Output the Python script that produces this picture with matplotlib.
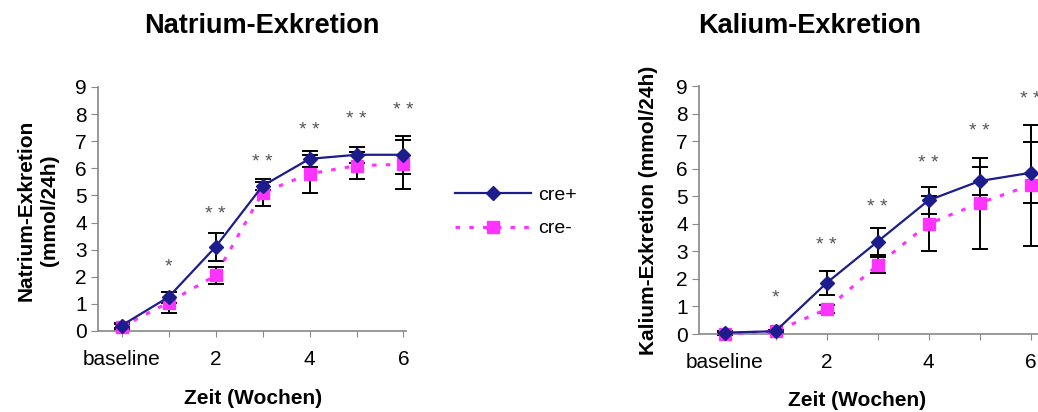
import matplotlib
matplotlib.use("Agg")
import matplotlib.pyplot as plt
from matplotlib.lines import Line2D

plt.rcParams['font.family'] = ['Liberation Sans', 'DejaVu Sans']

weeks = ["baseline", "1", "2", "3", "4", "5", "6"]
shown_labels = ["baseline", "", "2", "", "4", "", "6"]

na_pos = [0.2, 1.25, 3.1, 5.35, 6.35, 6.5, 6.5]
na_pos_err = [0.1, 0.2, 0.5, 0.15, 0.3, 0.3, 0.7]
na_neg = [0.15, 1.05, 2.05, 5.1, 5.8, 6.1, 6.15]
na_neg_err = [0.1, 0.4, 0.3, 0.5, 0.7, 0.5, 0.9]
na_sig = ["", "*", "* *", "* *", "* *", "* *", "* *"]
na_sig_y = [0, 2.35, 4.3, 6.2, 7.4, 7.8, 8.15]

k_pos = [0.05, 0.1, 1.85, 3.35, 4.85, 5.55, 5.85]
k_pos_err = [0.05, 0.05, 0.45, 0.5, 0.5, 0.5, 1.1]
k_neg = [0.0, 0.1, 0.9, 2.5, 4.0, 4.75, 5.4]
k_neg_err = [0.05, 0.05, 0.15, 0.3, 1.0, 1.65, 2.2]
k_sig = ["", "*", "* *", "* *", "* *", "* *", "* *"]
k_sig_y = [0, 1.3, 3.2, 4.6, 6.2, 7.35, 8.5]

BLUE = "#1c1c8c"
MAG = "#ff33ff"
GRAY = "#888888"
SIGC = "#555555"

W, H = 1038, 412
fig = plt.figure(figsize=(W / 100, H / 100), dpi=100)


def panel(rect, xmax, pos, pos_err, neg, neg_err, sig, sig_y, title, ylabel, title_xy, ylab_x, xlab_xy):
    ax = fig.add_axes(rect)
    x = list(range(len(weeks)))
    ax.errorbar(x, neg, yerr=neg_err, fmt='none', ecolor='black', elinewidth=1.4,
                capsize=6, capthick=1.4, zorder=2, clip_on=False)
    ax.errorbar(x, pos, yerr=pos_err, fmt='none', ecolor='black', elinewidth=1.4,
                capsize=6, capthick=1.4, zorder=2, clip_on=False)
    ax.plot(x, neg, color=MAG, linestyle=(0, (1.5, 3)), linewidth=2.2,
            marker='s', markersize=8.5, markerfacecolor=MAG, markeredgecolor=MAG,
            zorder=3, clip_on=False)
    ax.plot(x, pos, color=BLUE, linestyle='-', linewidth=1.6,
            marker='D', markersize=7.5, markerfacecolor=BLUE, markeredgecolor=BLUE,
            zorder=4, clip_on=False)
    for xi, s, yv in zip(x, sig, sig_y):
        if s:
            ax.text(xi, yv, s, ha='center', va='center', fontsize=14, color=SIGC)
    ax.set_xlim(-0.5, xmax)
    ax.set_ylim(0, 9)
    ax.set_yticks(range(10))
    ax.set_xticks(x)
    ax.set_xticklabels(shown_labels)
    for sp in ['top', 'right']:
        ax.spines[sp].set_visible(False)
    for sp in ['left', 'bottom']:
        ax.spines[sp].set_color(GRAY)
        ax.spines[sp].set_linewidth(1.2)
    ax.tick_params(axis='y', labelsize=15, length=5, color=GRAY, pad=3)
    ax.tick_params(axis='x', labelsize=15, length=4, color=GRAY, pad=10)
    fig.text(title_xy[0] / W, 1 - title_xy[1] / H, title, ha='center', va='center',
             fontsize=19.5, fontweight='bold')
    fig.text(ylab_x / W, 1 - 210 / H, ylabel, ha='center', va='center', rotation=90,
             fontsize=15, fontweight='bold', linespacing=1.25)
    fig.text(xlab_xy[0] / W, 1 - xlab_xy[1] / H, "Zeit (Wochen)", ha='center', va='center',
             fontsize=15, fontweight='bold')
    return ax


# left panel: axis 98..407 px, y0 at 331, y9 at 87
left_rect = [98 / W, 1 - 331 / H, 6.55 * 47 / W, (331 - 87) / H]
panel(left_rect, 6.05, na_pos, na_pos_err, na_neg, na_neg_err, na_sig, na_sig_y,
      "Natrium-Exkretion", "Natrium-Exkretion\n(mmol/24h)", (262, 26), 38, (253, 398))

# right panel: axis starts at 699 px, y0 at 334, y9 at 86
right_rect = [699 / W, 1 - 334 / H, 7.0 * 51 / W, (334 - 86) / H]
panel(right_rect, 6.5, k_pos, k_pos_err, k_neg, k_neg_err, k_sig, k_sig_y,
      "Kalium-Exkretion", "Kalium-Exkretion (mmol/24h)", (810, 26), 648, (857, 401))

handles = [
    Line2D([], [], color=BLUE, linestyle='-', linewidth=1.6, marker='D', markersize=7.5,
           markerfacecolor=BLUE, markeredgecolor=BLUE),
    Line2D([], [], color=MAG, linestyle=(0, (1.5, 3)), linewidth=2.2, marker='s', markersize=8.5,
           markerfacecolor=MAG, markeredgecolor=MAG),
]
fig.legend(handles, ["cre+", "cre-"], loc='center left',
           bbox_to_anchor=(455 / W, 1 - 212 / H), frameon=False, fontsize=14,
           handlelength=3.9, handletextpad=0.35, labelspacing=0.8, borderpad=0,
           borderaxespad=0)

fig.savefig("out.png", dpi=100)
